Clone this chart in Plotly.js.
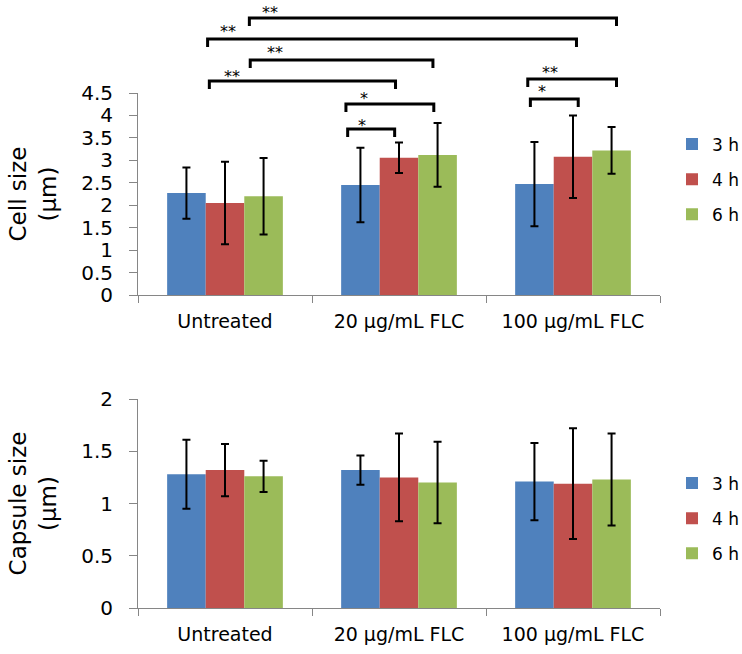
<!DOCTYPE html>
<html>
<head>
<meta charset="utf-8">
<script src="https://cdn.plot.ly/plotly-3.0.1.min.js"></script>
<style>
  body { margin: 0; background: #fff; }
  #plotArea { width: 742px; height: 654px; }
</style>
</head>
<body>
<div id="plotArea"></div>
<script>
// groups and time points
var groups = ["Untreated", "20 µg/mL FLC", "100 µg/mL FLC"];
var times = ["3 h", "4 h", "6 h"];
var colors = ["#4F81BD", "#C0504D", "#9BBB59"];

// cell size (µm), one array per time point, with error (SD)
var cell3h = [2.27, 2.45, 2.47];
var cell4h = [2.05, 3.06, 3.08];
var cell6h = [2.20, 3.12, 3.22];
var cellErr3h = [0.57, 0.83, 0.94];
var cellErr4h = [0.92, 0.34, 0.92];
var cellErr6h = [0.85, 0.71, 0.52];

// capsule size (µm)
var caps3h = [1.28, 1.32, 1.21];
var caps4h = [1.32, 1.25, 1.19];
var caps6h = [1.26, 1.20, 1.23];
var capsErr3h = [0.33, 0.14, 0.37];
var capsErr4h = [0.25, 0.42, 0.53];
var capsErr6h = [0.15, 0.39, 0.44];

// significance labels
var sigLabels = ["**", "**", "**", "**", "**", "*", "*", "*"];

var cellVals = [cell3h, cell4h, cell6h];
var cellErrs = [cellErr3h, cellErr4h, cellErr6h];
var capsVals = [caps3h, caps4h, caps6h];
var capsErrs = [capsErr3h, capsErr4h, capsErr6h];

var font = "DejaVu Sans, Verdana, sans-serif";
var data = [];

for (var i = 0; i < times.length; i++) {
    data.push({
        x: groups, y: cellVals[i], name: times[i], type: "bar",
        marker: {color: colors[i]}, legendgroup: "top" + i,
        error_y: {type: "data", array: cellErrs[i], color: "#000", thickness: 2, width: 4},
        xaxis: "x", yaxis: "y", legend: "legend"
    });
}
for (var i = 0; i < times.length; i++) {
    data.push({
        x: groups, y: capsVals[i], name: times[i], type: "bar",
        marker: {color: colors[i]}, legendgroup: "bot" + i,
        error_y: {type: "data", array: capsErrs[i], color: "#000", thickness: 2, width: 4},
        xaxis: "x2", yaxis: "y2", legend: "legend2"
    });
}

// brackets above the top panel: [from, to, line y (px from top), label x, label y]
var H = 654;
var brackets = [
    [0.14, 2.25, 18, 0.26, 9],
    [-0.10, 2.02, 39, 0.02, 27],
    [0.145, 1.195, 60, 0.29, 48],
    [-0.09, 0.98, 81, 0.04, 72],
    [1.74, 2.25, 79, 1.87, 68],
    [1.755, 2.03, 99, 1.82, 88],
    [0.695, 1.20, 104, 0.80, 94],
    [0.705, 0.975, 129, 0.79, 121]
];
var shapes = [], annotations = [];
brackets.forEach(function (b, k) {
    var yl = (H - b[2]) / H, yb = (H - b[2] - 8) / H;
    shapes.push({
        type: "path", xref: "x", yref: "paper",
        path: "M" + b[0] + "," + yb + " L" + b[0] + "," + yl + " L" + b[1] + "," + yl + " L" + b[1] + "," + yb,
        line: {color: "#000", width: 3}
    });
    annotations.push({
        xref: "x", yref: "paper", x: b[3], y: (H - b[4] - 4) / H, yanchor: "middle",
        text: sigLabels[k], showarrow: false, font: {family: font, size: 16, color: "#000"}
    });
});

var xCommon = {
    type: "category", showline: true, linecolor: "#868686", linewidth: 1,
    ticks: "outside", tickson: "boundaries", ticklen: 7, tickcolor: "#868686",
    tickfont: {family: font, size: 19, color: "#000"}, ticklabelstandoff: 9,
    showgrid: false, zeroline: false, fixedrange: true
};
var yCommon = {
    showline: true, linecolor: "#868686", linewidth: 1,
    ticks: "outside", ticklen: 8, tickcolor: "#868686", dtick: 0.5,
    tickfont: {family: font, size: 20, color: "#000"}, ticklabelstandoff: 12,
    showgrid: false, zeroline: false, automargin: false
};

var layout = {
    width: 742, height: 654,
    margin: {l: 138, r: 82, t: 0, b: 0, autoexpand: false},
    paper_bgcolor: "#fff", plot_bgcolor: "#fff",
    font: {family: font, color: "#000"},
    barmode: "group", bargap: 0.335, bargroupgap: 0,
    xaxis: Object.assign({}, xCommon, {anchor: "y"}),
    yaxis: Object.assign({}, yCommon, {
        domain: [(H - 295) / H, (H - 93) / H], range: [0, 4.5], anchor: "x",
        title: {text: "Cell size<br>(µm)", font: {family: font, size: 23}, standoff: 18}
    }),
    xaxis2: Object.assign({}, xCommon, {anchor: "y2"}),
    yaxis2: Object.assign({}, yCommon, {
        domain: [(H - 608) / H, (H - 399) / H], range: [0, 2], anchor: "x2",
        title: {text: "Capsule size<br>(µm)", font: {family: font, size: 23}, standoff: 18}
    }),
    legend: {x: 1.023, y: (H - 126.5) / H, xanchor: "left", yanchor: "top",
             font: {family: font, size: 17}, itemwidth: 30, tracegroupgap: 10},
    legend2: {x: 1.023, y: (H - 465.5) / H, xanchor: "left", yanchor: "top",
             font: {family: font, size: 17}, itemwidth: 30, tracegroupgap: 10},
    shapes: shapes,
    annotations: annotations,
    showlegend: true
};

Plotly.newPlot("plotArea", data, layout, {displayModeBar: false, staticPlot: true});
</script>
</body>
</html>
